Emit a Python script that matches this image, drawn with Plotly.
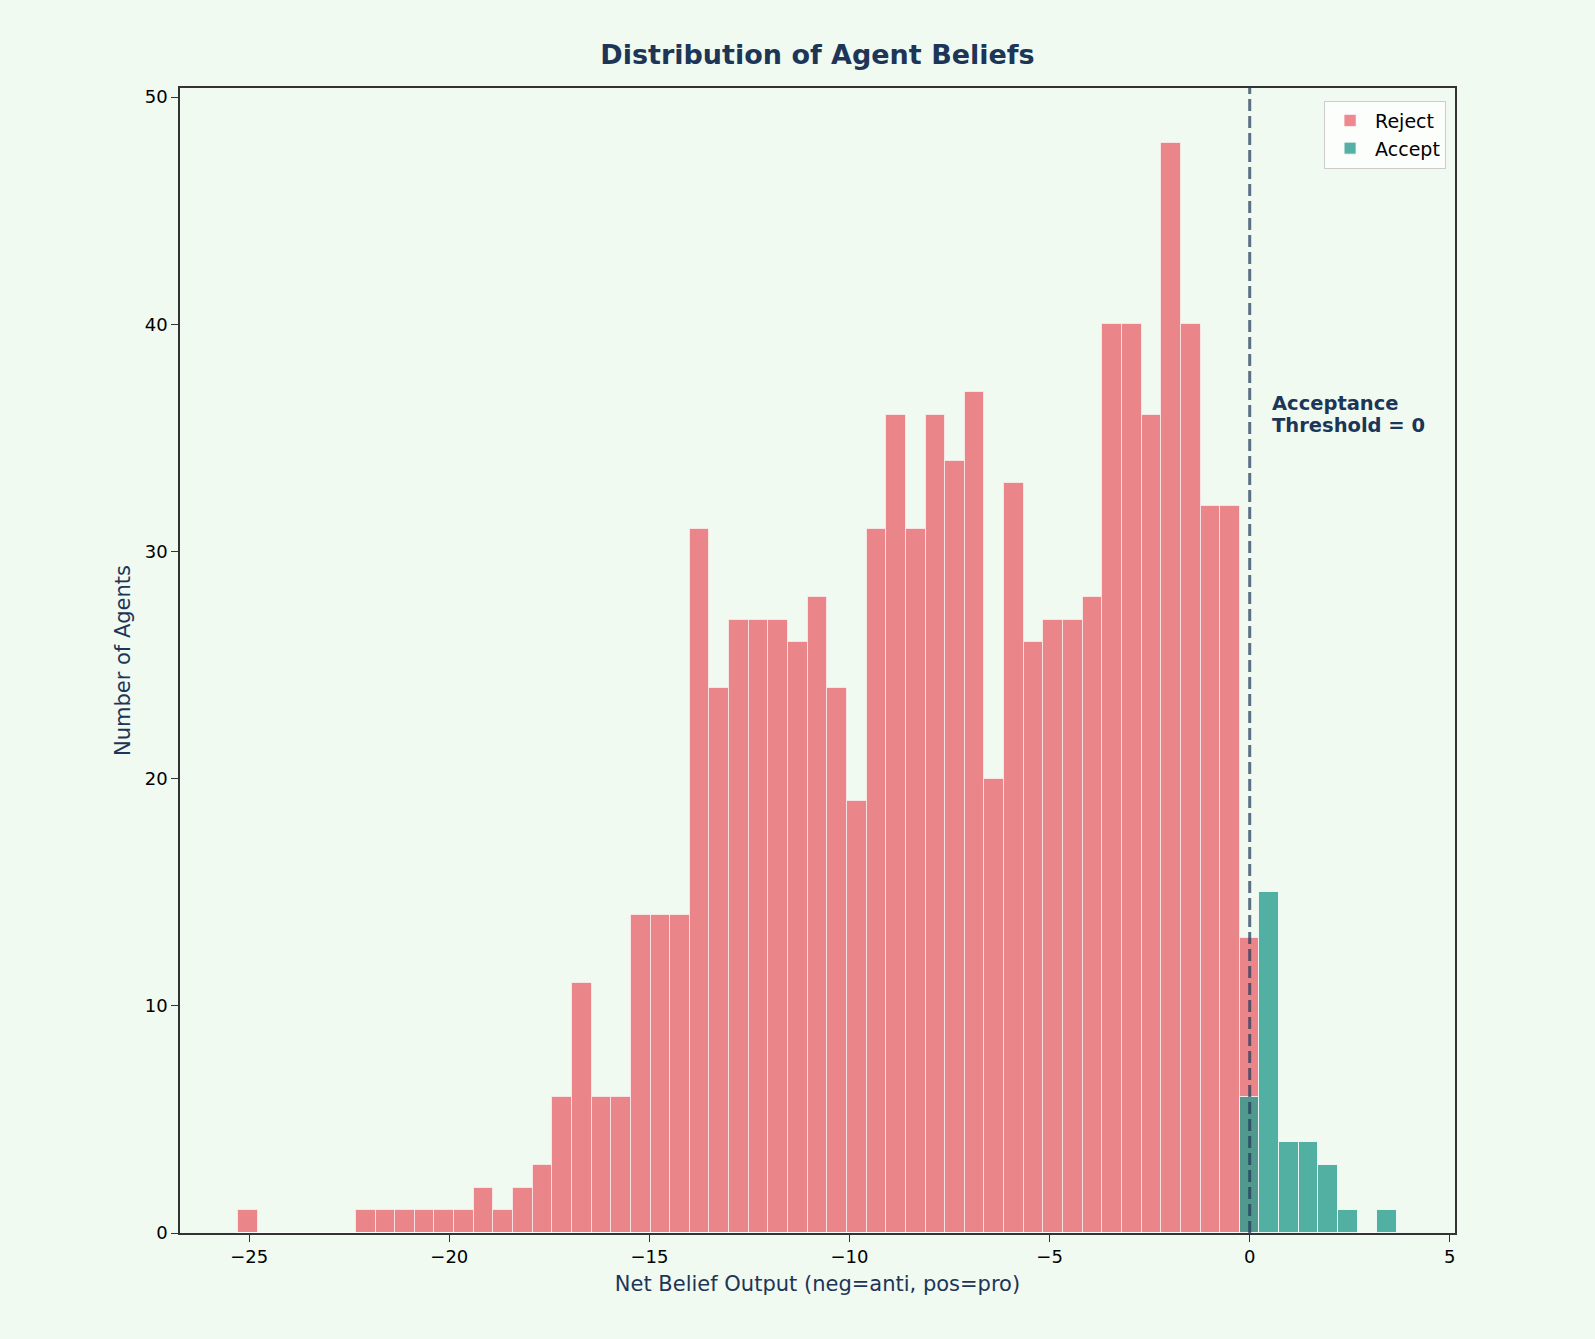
import numpy as np
import plotly.graph_objects as go

# ---- data ----
bin_min = -25.28
bin_max = 3.68
n_bins = 59

reject_counts = [1, 0, 0, 0, 0, 0, 1, 1, 1, 1, 1, 1, 2, 1, 2, 3, 6, 11, 6, 6,
                 14, 14, 14, 31, 24, 27, 27, 27, 26, 28, 24, 19, 31, 36, 31, 36, 34, 37, 20, 33,
                 26, 27, 27, 28, 40, 40, 36, 48, 40, 32, 32, 13, 0, 0, 0, 0, 0, 0, 0]
accept_counts = [0] * 51 + [6, 15, 4, 4, 3, 1, 0, 1]

x_ticks = [-25, -20, -15, -10, -5, 0, 5]
y_ticks = [0, 10, 20, 30, 40, 50]
threshold = 0

edges = np.linspace(bin_min, bin_max, n_bins + 1)
centers = (edges[:-1] + edges[1:]) / 2
width = edges[1] - edges[0]

BG = "#f0faf0"
NAVY = "#1d3557"
FONT = "DejaVu Sans"

fig = go.Figure()
fig.add_trace(go.Bar(
    x=centers, y=reject_counts, width=width, name="Reject",
    marker=dict(color="rgba(230,57,70,0.6)", line=dict(color="rgba(255,255,255,0.6)", width=1)),
))
fig.add_trace(go.Bar(
    x=centers, y=accept_counts, width=width, name="Accept",
    marker=dict(color="rgba(42,157,143,0.8)", line=dict(color="rgba(255,255,255,0.8)", width=1)),
))

fig.add_shape(type="line", x0=threshold, x1=threshold, xref="x", y0=0, y1=1, yref="paper",
              line=dict(color="rgba(29,53,87,0.7)", width=3, dash="12px,5px"), layer="above")

fig.add_annotation(x=0.5, y=36.53, xref="x", yref="y", text="<b>Acceptance</b>",
                   showarrow=False, xanchor="left", yanchor="middle",
                   font=dict(family=FONT, size=19.5, color=NAVY))
fig.add_annotation(x=0.5, y=35.56, xref="x", yref="y", text="<b>Threshold = 0</b>",
                   showarrow=False, xanchor="left", yanchor="middle",
                   font=dict(family=FONT, size=19.5, color=NAVY))

axis_common = dict(
    showline=True, linecolor="#333333", linewidth=1.5, mirror=True,
    ticks="outside", ticklen=7, tickwidth=1.3, tickcolor="#333333",
    showgrid=False, zeroline=False,
    tickfont=dict(family=FONT, size=18, color="#000000"),
)

fig.update_layout(
    width=1595, height=1339,
    paper_bgcolor=BG, plot_bgcolor=BG,
    margin=dict(l=180, r=140, t=88, b=106),
    barmode="overlay", bargap=0,
    title=dict(text="<b>Distribution of Agent Beliefs</b>", x=0.5, xref="paper",
               y=1 - 55 / 1339, yref="container", yanchor="middle", xanchor="center",
               font=dict(family=FONT, size=27, color=NAVY)),
    xaxis=dict(range=[-26.73, 5.13], tickvals=x_ticks,
               title=dict(text="Net Belief Output (neg=anti, pos=pro)", standoff=10,
                          font=dict(family=FONT, size=21, color=NAVY)),
               **axis_common),
    yaxis=dict(range=[0, 50.4], tickvals=y_ticks,
               title=dict(text="Number of Agents", standoff=8,
                          font=dict(family=FONT, size=21, color=NAVY)),
               **axis_common),
    legend=dict(x=0.993, y=0.989, xanchor="right", yanchor="top",
                bgcolor="rgba(255,255,255,0.8)", bordercolor="#cccccc", borderwidth=1,
                font=dict(family=FONT, size=19, color="#000000"), traceorder="normal",
                itemwidth=40),
    font=dict(family=FONT),
)

fig.write_html("out.html", config={"displayModeBar": False},
               post_script="document.body.style.margin='0';document.body.style.overflow='hidden';")
